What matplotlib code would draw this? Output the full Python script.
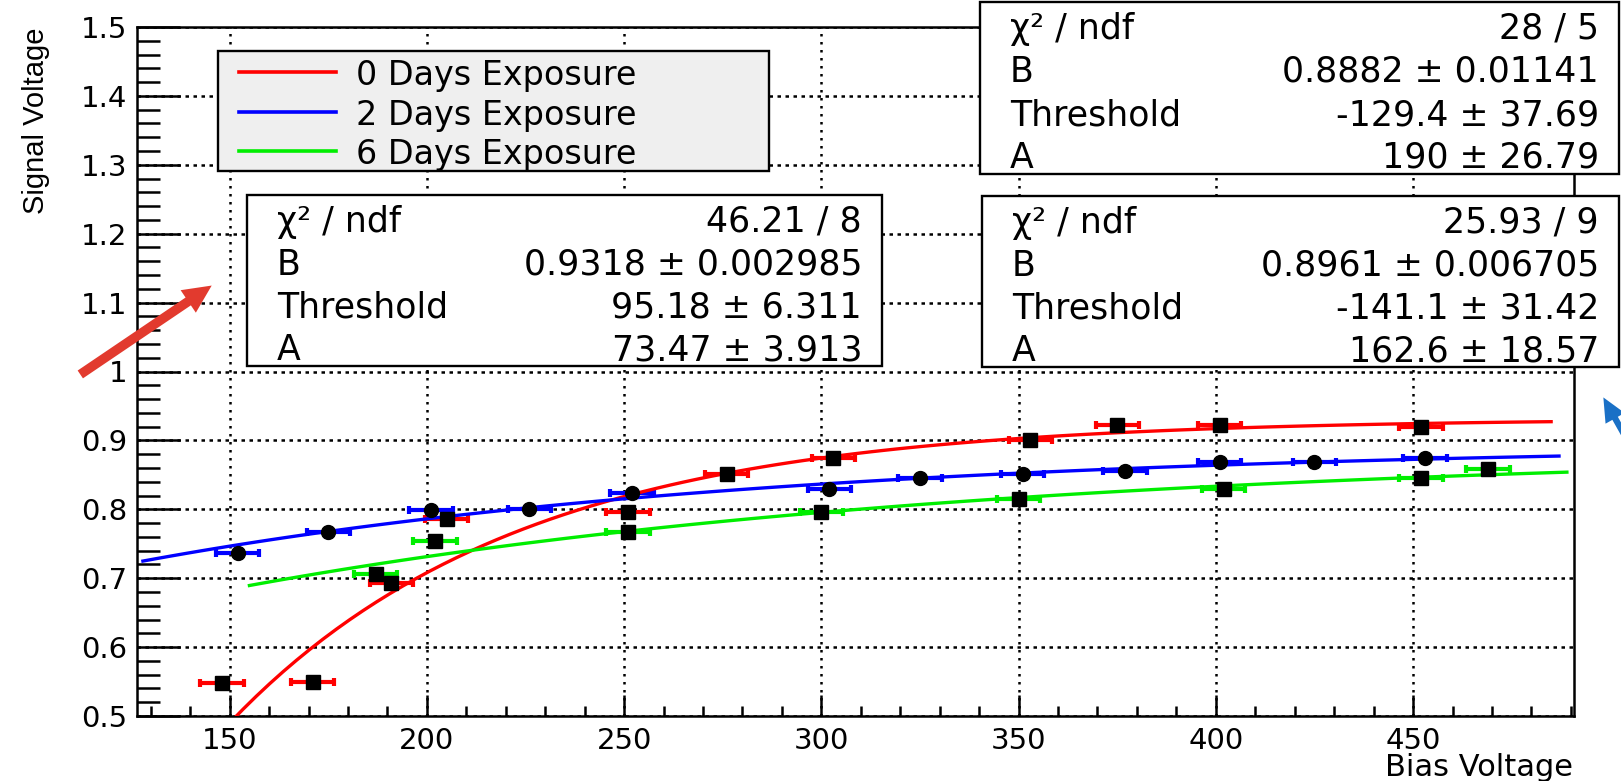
#!/usr/bin/python3
# encoding=utf-8

import numpy as np
import matplotlib
matplotlib.use('Agg')
import matplotlib.pyplot as plt
from matplotlib.patches import Rectangle, FancyArrowPatch
from matplotlib.lines import Line2D
from matplotlib.ticker import MultipleLocator, FormatStrFormatter
from matplotlib import font_manager

# measured points: bias voltage (V) and signal voltage
bias_0d = [148, 171, 191, 205, 251, 276, 303, 353, 375, 401, 452]
signal_0d = [0.548, 0.550, 0.693, 0.786, 0.796, 0.851, 0.874, 0.900, 0.922, 0.922, 0.920]

bias_2d = [152, 175, 201, 226, 252, 302, 325, 351, 377, 401, 425, 453]
signal_2d = [0.736, 0.767, 0.799, 0.800, 0.824, 0.830, 0.845, 0.851, 0.856, 0.869, 0.868, 0.875]

bias_6d = [187, 202, 251, 300, 350, 402, 452, 469]
signal_6d = [0.706, 0.754, 0.767, 0.796, 0.815, 0.830, 0.845, 0.858]

bias_err = 5.5

# fit results  B*(1 - exp(-(V - Threshold)/A))
# (chi2, ndf, B, dB, Threshold, dThreshold, A, dA)
fit_0d = (46.21, 8, 0.9318, 0.002985, 95.18, 6.311, 73.47, 3.913)
fit_2d = (25.93, 9, 0.8961, 0.006705, -141.1, 31.42, 162.6, 18.57)
fit_6d = (28, 5, 0.8882, 0.01141, -129.4, 37.69, 190, 26.79)

range_0d = (150, 485)
range_2d = (128, 487)
range_6d = (155, 489)

labels = ['0 Days Exposure', '2 Days Exposure', '6 Days Exposure']
colors = ['#ff0000', '#0000ff', '#00ee00']

W, H = 1621, 781
fig = plt.figure(figsize=(W / 100, H / 100), dpi=100)


def fxy(x, y):
    # pixel position from the top-left corner -> figure fraction
    return (x / W, 1 - y / H)


ax = fig.add_axes([137 / W, 1 - 716 / H, (1574 - 137) / W, (716 - 27) / H])
ax.set_xlim(126.5, 490.8)
ax.set_ylim(0.5, 1.5)


def curve(p, lo, hi):
    x = np.linspace(lo, hi, 100)
    return x, p[2] * (1 - np.exp(-(x - p[4]) / p[6]))


series = [
    (bias_0d, signal_0d, fit_0d, range_0d, 's'),
    (bias_2d, signal_2d, fit_2d, range_2d, 'o'),
    (bias_6d, signal_6d, fit_6d, range_6d, 's'),
]

for (bx, sy, fit, rng, mk), col in zip(series, colors):
    ax.errorbar(bx, sy, xerr=bias_err, fmt='none', ecolor=col,
                elinewidth=3, capsize=3, capthick=3, zorder=3)
    ax.plot(bx, sy, mk, color='black', ms=9.5 if mk == 's' else 10, zorder=4)
    cx, cy = curve(fit, *rng)
    ax.plot(cx, cy, color=col, lw=2.4, zorder=3.5)

# axes, ticks and grid
ax.xaxis.set_major_locator(MultipleLocator(50))
ax.xaxis.set_minor_locator(MultipleLocator(10))
ax.yaxis.set_major_locator(MultipleLocator(0.1))
ax.yaxis.set_minor_locator(MultipleLocator(0.02))
ax.yaxis.set_major_formatter(FormatStrFormatter('%g'))
for sp in ax.spines.values():
    sp.set_linewidth(1.8)
ax.tick_params(axis='both', which='both', direction='in', top=False, right=False,
               width=1.8, labelsize=21)
ax.tick_params(axis='y', which='major', length=31, pad=7)
ax.tick_params(axis='y', which='minor', length=16.5)
ax.tick_params(axis='x', which='major', length=15, pad=8)
ax.tick_params(axis='x', which='minor', length=7.5)
ax.set_axisbelow(True)
ax.xaxis.grid(True, which='major', color='black', lw=1.8, linestyle=(0, (1, 2.2)))
ax.yaxis.grid(True, which='major', color='black', lw=1.8, linestyle=(0, (1.4, 1.8)))

# axis titles
names = {f.name for f in font_manager.fontManager.ttflist}
ylab_font = 'Liberation Sans Narrow' if 'Liberation Sans Narrow' in names else 'Liberation Sans'
fig.text(*fxy(36, 28), 'Signal Voltage', rotation=90, ha='center', va='top',
         family=ylab_font, fontsize=24 if ylab_font.endswith('Narrow') else 21)
fig.text(*fxy(1573, 776), 'Bias Voltage', ha='right', va='baseline', fontsize=22)


def pixel_box(x0, y0, x1, y1, face):
    rect = Rectangle(fxy(x0, y1), (x1 - x0) / W, (y1 - y0) / H,
                     transform=fig.transFigure, facecolor=face,
                     edgecolor='black', lw=1.7, zorder=5)
    fig.add_artist(rect)


# legend
pixel_box(218, 51, 769, 171, '#efefef')
for i, (lab, col) in enumerate(zip(labels, colors)):
    yy = 72 + 39.5 * i
    fig.add_artist(Line2D([239 / W, 336 / W], [1 - yy / H] * 2, color=col, lw=2.6,
                          transform=fig.transFigure, zorder=6))
    fig.text(*fxy(356, yy), lab, ha='left', va='center_baseline', fontsize=24, zorder=6)


def stats_box(fit, x0, y0, x1, y1):
    pixel_box(x0, y0, x1, y1, 'white')
    rows = [('χ² / ndf', '{:.4g} / {}'.format(fit[0], fit[1])),
            ('B', '{:.4g} ± {:.4g}'.format(fit[2], fit[3])),
            ('Threshold', '{:.4g} ± {:.4g}'.format(fit[4], fit[5])),
            ('A', '{:.4g} ± {:.4g}'.format(fit[6], fit[7]))]
    h = (y1 - y0) / 4
    for i, (name, val) in enumerate(rows):
        yy = y0 + h * (i + 0.5) + 2
        fig.text(*fxy(x0 + 30, yy), name, ha='left', va='center_baseline',
                 fontsize=25, zorder=6)
        fig.text(*fxy(x1 - 20, yy), val, ha='right', va='center_baseline',
                 fontsize=25, zorder=6)


stats_box(fit_6d, 980, 2, 1619, 174)
stats_box(fit_0d, 247, 195, 882, 366)
stats_box(fit_2d, 982, 196, 1619, 367)

# annotation arrows
red_arrow = FancyArrowPatch(fxy(78, 376), fxy(214, 284), transform=fig.transFigure,
                            arrowstyle='simple,head_length=1.2,head_width=1.15,tail_width=0.4',
                            mutation_scale=17, color='#e23a2e', lw=0, zorder=7)
fig.add_artist(red_arrow)
blue_arrow = FancyArrowPatch(fxy(1634, 452), fxy(1602, 395), transform=fig.transFigure,
                             arrowstyle='simple,head_length=1.15,head_width=1.05,tail_width=0.3',
                             mutation_scale=15, color='#1a70c6', lw=0, zorder=7)
fig.add_artist(blue_arrow)

fig.savefig('out.png', dpi=100)
